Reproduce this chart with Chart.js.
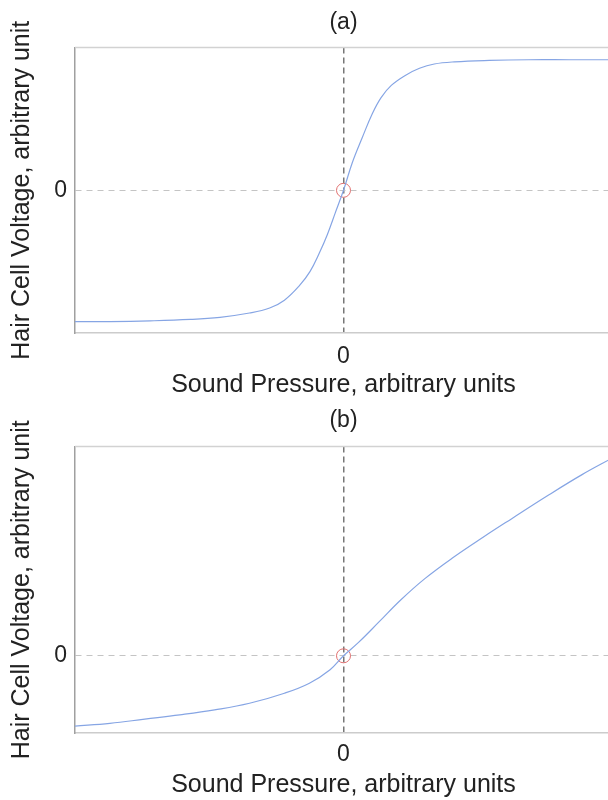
<!DOCTYPE html>
<html>
<head>
<meta charset="utf-8">
<script src="https://cdn.jsdelivr.net/npm/chart.js@4/dist/chart.umd.min.js"></script>
<style>
  html, body { margin: 0; padding: 0; background: #ffffff; }
  #wrap { width: 608px; height: 800px; overflow: hidden; position: relative; }
  canvas { display: block; }
</style>
</head>
<body>
<div id="wrap">
  <canvas id="panelA" width="620" height="400"></canvas>
  <canvas id="panelB" width="620" height="400"></canvas>
</div>
<script>
// Transfer curve (a): symmetric saturating response
const pressureA = [-1.0, -0.87, -0.72, -0.57, -0.46, -0.35, -0.275, -0.22, -0.165, -0.125, -0.09, -0.06, -0.03,
                   0, 0.033, 0.07, 0.108, 0.14, 0.178, 0.23, 0.283, 0.338, 0.413, 0.543, 0.69, 0.84, 1.0];
const voltageA  = [-0.92, -0.92, -0.915, -0.905, -0.89, -0.86, -0.825, -0.77, -0.67, -0.57, -0.44, -0.31, -0.155,
                   0, 0.195, 0.37, 0.54, 0.65, 0.735, 0.805, 0.855, 0.885, 0.9, 0.91, 0.915, 0.915, 0.915];

// Transfer curve (b): asymmetric response
const pressureB = [-1.0, -0.87, -0.74, -0.61, -0.48, -0.35, -0.22, -0.127, -0.05, 0,
                   0.055, 0.134, 0.212, 0.303, 0.407, 0.524, 0.628, 0.758, 0.89, 1.0];
const voltageB  = [-0.91, -0.875, -0.82, -0.765, -0.70, -0.615, -0.485, -0.355, -0.18, 0,
                   0.17, 0.445, 0.72, 1.0, 1.27, 1.545, 1.78, 2.07, 2.35, 2.56];

// Resting operating point marked on each panel
const restPressure = [0];
const restVoltage  = [0];

// Only the zero tick is labelled on both axes
const pressureTicks = [0];
const voltageTicks  = [0];

const panelTitles = ['(a)', '(b)'];
const xTitle = 'Sound Pressure, arbitrary units';
const yTitle = 'Hair Cell Voltage, arbitrary unit';

const FONT = "'Liberation Sans', Arial, Helvetica, sans-serif";
const TEXT = '#222222';

function toPoints(xs, ys) {
  return xs.map((x, i) => ({ x: x, y: ys[i] }));
}

// Light frame line along the top of the plotting area
const topFrame = {
  id: 'topFrame',
  beforeDatasetsDraw(chart) {
    const { ctx, chartArea } = chart;
    ctx.save();
    ctx.strokeStyle = '#d2d2d2';
    ctx.lineWidth = 1.5;
    ctx.beginPath();
    ctx.moveTo(chartArea.left, chartArea.top);
    ctx.lineTo(chartArea.right, chartArea.top);
    ctx.stroke();
    ctx.restore();
  }
};

function makePanel(canvasId, cfg) {
  return new Chart(document.getElementById(canvasId), {
    type: 'scatter',
    data: {
      datasets: [
        {
          data: toPoints(cfg.xs, cfg.ys),
          showLine: true,
          borderColor: '#86a5e4',
          borderWidth: 1.2,
          pointRadius: 0,
          tension: 0.4,
          fill: false
        },
        {
          data: toPoints(restPressure, restVoltage),
          showLine: false,
          pointStyle: 'circle',
          pointRadius: 7,
          borderColor: '#e07070',
          borderWidth: 1,
          backgroundColor: 'rgba(0,0,0,0)'
        }
      ]
    },
    options: {
      responsive: false,
      animation: false,
      devicePixelRatio: 1,
      layout: { padding: { top: cfg.padTop, right: 6, bottom: 0, left: 0 } },
      plugins: {
        legend: { display: false },
        tooltip: { enabled: false },
        title: {
          display: true,
          text: cfg.title,
          fullSize: false,
          color: TEXT,
          font: { family: FONT, size: 23, weight: 'normal', lineHeight: 1.2 },
          padding: { top: 0, bottom: cfg.titleGap }
        }
      },
      scales: {
        x: {
          type: 'linear',
          min: -1,
          max: 1,
          afterFit(scale) { scale.height = 67; },
          afterBuildTicks(scale) { scale.ticks = pressureTicks.map(v => ({ value: v })); },
          ticks: {
            callback: v => String(v),
            padding: cfg.xTickPad,
            color: TEXT,
            maxRotation: 0,
            autoSkip: false,
            font: { family: FONT, size: 23, lineHeight: 1.2 }
          },
          grid: { drawTicks: false, color: '#777777', lineWidth: 1.5 },
          border: { display: true, color: '#cccccc', width: 1.5, dash: [6, 4] },
          title: {
            display: true,
            text: xTitle,
            color: TEXT,
            font: { family: FONT, size: 25, lineHeight: 1.2 },
            padding: { top: 0, bottom: 0 }
          }
        },
        y: {
          type: 'linear',
          min: -1,
          max: cfg.yMax,
          afterFit(scale) { scale.width = 75; },
          afterBuildTicks(scale) { scale.ticks = voltageTicks.map(v => ({ value: v })); },
          ticks: {
            callback: v => String(v),
            padding: 8,
            color: TEXT,
            autoSkip: false,
            font: { family: FONT, size: 23, lineHeight: 1.2 }
          },
          grid: { drawTicks: false, color: '#c4c4c4', lineWidth: 1 },
          border: { display: true, color: '#a0a0a0', width: 1.5, dash: [6, 5] },
          title: {
            display: true,
            text: yTitle,
            color: TEXT,
            font: { family: FONT, size: 25, lineHeight: 1.2 },
            padding: { top: 7, bottom: 0 }
          }
        }
      }
    },
    plugins: [topFrame]
  });
}

makePanel('panelA', {
  xs: pressureA, ys: voltageA, title: panelTitles[0], yMax: 1,
  padTop: 9, titleGap: 11, xTickPad: 10
});

makePanel('panelB', {
  xs: pressureB, ys: voltageB, title: panelTitles[1], yMax: 2.71,
  padTop: 7, titleGap: 12, xTickPad: 8
});
</script>
</body>
</html>
